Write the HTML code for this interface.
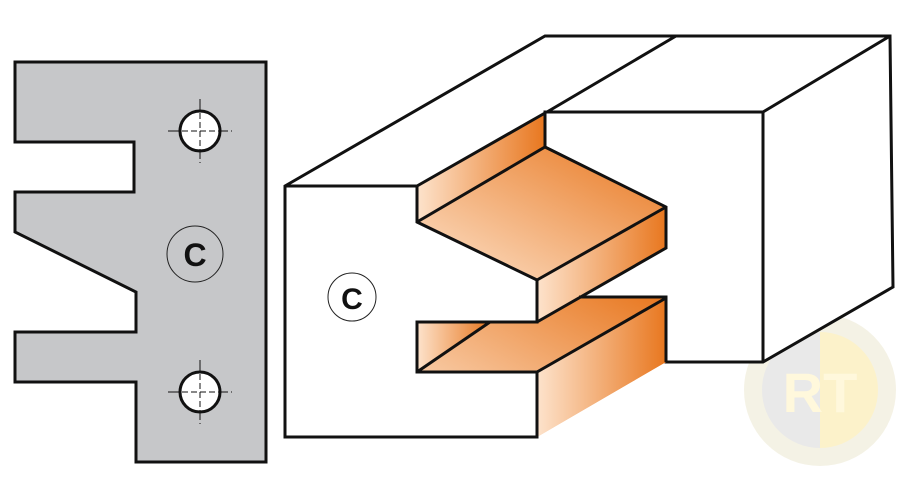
<!DOCTYPE html>
<html><head><meta charset="utf-8"><style>html,body{margin:0;padding:0;background:#fff}svg{display:block}</style></head>
<body>
<svg width="905" height="477" viewBox="0 0 905 477" xmlns="http://www.w3.org/2000/svg">
<defs>
<linearGradient id="g1" x1="0" y1="1" x2="1" y2="0"><stop offset="0" stop-color="#fde3cc"/><stop offset="1" stop-color="#e8771f"/></linearGradient>
<linearGradient id="g2" x1="0" y1="0" x2="1" y2="0"><stop offset="0" stop-color="#fde3cc"/><stop offset="1" stop-color="#e8771f"/></linearGradient>
</defs>
<!-- left profile -->
<polygon points="15,62 266,62 266,462 136,462 136,382 15,382 15,332 136,332 136,292 15,232 15,192 134,192 134,142 15,142" fill="#c6c7c9" stroke="#111" stroke-width="3" stroke-linejoin="miter"/>
<g stroke="#111" stroke-width="1" stroke-dasharray="6,3">
<line x1="200" y1="99" x2="200" y2="163"/><line x1="168" y1="131" x2="232" y2="131"/>
<line x1="200" y1="360" x2="200" y2="424"/><line x1="168" y1="392" x2="232" y2="392"/>
</g>
<circle cx="200" cy="131" r="20" fill="#fff" stroke="#111" stroke-width="3"/>
<circle cx="200" cy="392" r="20" fill="#fff" stroke="#111" stroke-width="3"/>
<g stroke="#111" stroke-width="1" stroke-dasharray="6,3">
<line x1="200" y1="104" x2="200" y2="158"/><line x1="173" y1="131" x2="227" y2="131"/>
<line x1="200" y1="365" x2="200" y2="419"/><line x1="173" y1="392" x2="227" y2="392"/>
</g>
<circle cx="195" cy="254" r="28" fill="none" stroke="#222" stroke-width="1"/>
<text x="195" y="266" text-anchor="middle" font-family="Liberation Sans, sans-serif" font-weight="bold" font-size="32" fill="#111">C</text>

<!-- watermark -->
<g opacity="0.55">
<circle cx="820" cy="390" r="76" fill="#ece8d0"/>
<path d="M820,332 A58,58 0 0 0 820,448 Z" fill="#d8d8d8"/>
<path d="M820,332 A58,58 0 0 1 820,448 Z" fill="#fbe9a0"/>
<text x="820" y="412" text-anchor="middle" font-family="Liberation Sans, sans-serif" font-weight="bold" font-size="56" fill="#fff3c0">RT</text>
</g>

<!-- right 3D -->
<g stroke="#111" stroke-width="3" stroke-linejoin="miter" fill="#fff">
<polygon points="285,186 545,36 890,36 893,287 763,362 666,362 666,297 579,297 537,322 537,437 285,437"/>
</g>
<polygon points="417,186 545,113 545,147 417,222" fill="url(#g2)"/>
<polygon points="417,222 545,147 666,207 537,280" fill="url(#g1)"/>
<polygon points="537,280 666,207 666,248 537,322" fill="url(#g2)"/>
<polygon points="417,322 537,322 579,297 666,297 666,362 537,437 537,372 417,372" fill="url(#g1)"/>
<polygon points="537,372 666,298 666,362 537,437" fill="url(#g2)"/>
<polygon points="417,322 490,322 417,372" fill="url(#g2)"/>
<g stroke="#111" stroke-width="3" fill="none" stroke-linejoin="miter">
<polyline points="285,186 417,186 417,222 537,280 537,322 417,322 417,372 537,372 537,437"/>
<line x1="537" y1="372" x2="666" y2="298"/>
<line x1="417" y1="372" x2="490" y2="322"/>
<polyline points="417,222 545,147 666,207 666,248 537,322"/>
<line x1="537" y1="280" x2="666" y2="207"/>
<line x1="417" y1="186" x2="545" y2="113"/>
<polyline points="545,147 545,112 763,112 763,362"/>
<line x1="763" y1="112" x2="890" y2="36"/>
<line x1="676" y1="36" x2="547" y2="112"/>
<polyline points="579,297 666,297 666,362"/>
</g>
<circle cx="352" cy="297" r="24" fill="none" stroke="#222" stroke-width="1"/>
<text x="352" y="309" text-anchor="middle" font-family="Liberation Sans, sans-serif" font-weight="bold" font-size="30" fill="#111">C</text>
</svg>
</body></html>
